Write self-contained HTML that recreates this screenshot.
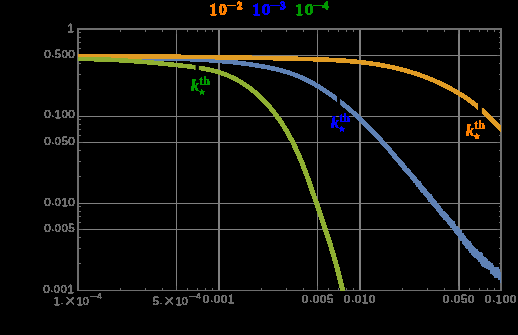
<!DOCTYPE html><html><head><meta charset="utf-8"><style>
html,body{margin:0;padding:0;background:#000;}
body{width:518px;height:335px;position:relative;overflow:hidden;font-family:"Liberation Sans",sans-serif;}
.t{will-change:transform;filter:url(#thr);-webkit-text-stroke:0.35px #6e6e6e;position:absolute;color:#6e6e6e;font-size:11.6px;line-height:12px;white-space:nowrap;}
.t u{text-decoration:none;-webkit-text-stroke:0.1px #6e6e6e;position:relative;top:-0.6px}
.yl{text-align:right;width:60px;left:14.9px;letter-spacing:0.35px;}
.xl{text-align:center;width:80px;letter-spacing:0.35px;}
.xl sup{font-size:9.3px;line-height:0;vertical-align:baseline;position:relative;top:-5.6px;}
.xl i{display:inline-block;width:6.6px;height:1.1px;background:#6e6e6e;position:relative;top:-7.9px;margin:0 0.2px 0 1.6px}
.xl b{font-weight:normal;font-size:19px;line-height:0;position:relative;top:2.0px;margin:0 0.4px 0 0.6px;-webkit-text-stroke:0}
.lg{position:absolute;font-family:"Liberation Serif",serif;font-weight:bold;font-size:16.8px;line-height:17px;white-space:nowrap;}
.lg sup{font-size:11px;line-height:0;vertical-align:baseline;position:relative;top:-7px;}
.k{position:absolute;font-family:"Liberation Serif",serif;font-weight:bold;font-style:italic;font-size:12px;line-height:12px;white-space:nowrap;}
</style></head><body>
<svg width="518" height="335" viewBox="0 0 518 335" style="position:absolute;left:0;top:0">
<defs><filter id="thr" x="-5%" y="-20%" width="110%" height="140%" color-interpolation-filters="sRGB"><feComponentTransfer><feFuncA type="discrete" tableValues="0 0 1 1 1 1 1 1"/></feComponentTransfer></filter><clipPath id="cg"><rect x="78.0" y="29.0" width="117.60" height="262.0"/><rect x="198.90" y="29.0" width="302.10" height="262.0"/></clipPath><clipPath id="cb"><rect x="78.0" y="29.0" width="259.00" height="262.0"/><rect x="340.10" y="29.0" width="160.90" height="262.0"/></clipPath><clipPath id="co"><rect x="78.0" y="29.0" width="400.00" height="262.0"/><rect x="481.90" y="29.0" width="19.10" height="262.0"/></clipPath></defs>
<g shape-rendering="crispEdges" fill="#808080">
<rect x="176" y="29" width="1" height="262"/>
<rect x="218" y="29" width="2" height="262"/>
<rect x="317" y="29" width="1" height="262"/>
<rect x="359" y="29" width="2" height="262"/>
<rect x="458" y="29" width="2" height="262"/>
<rect x="78" y="55" width="423" height="1"/>
<rect x="78" y="116" width="423" height="1"/>
<rect x="78" y="142" width="423" height="1"/>
<rect x="78" y="203" width="423" height="1"/>
<rect x="78" y="229" width="423" height="1"/>
</g>
<g shape-rendering="crispEdges" fill="#6e6e6e">
<rect x="77" y="28" width="2" height="263"/>
<rect x="500" y="28" width="2" height="263"/>
<rect x="77" y="28" width="425" height="2"/>
<rect x="77" y="290" width="425" height="1"/>
<rect x="120" y="288" width="1" height="2"/>
<rect x="120" y="30" width="1" height="2"/>
<rect x="145" y="288" width="1" height="2"/>
<rect x="145" y="30" width="1" height="2"/>
<rect x="162" y="288" width="1" height="2"/>
<rect x="162" y="30" width="1" height="2"/>
<rect x="176" y="286" width="1" height="4"/>
<rect x="176" y="30" width="1" height="4"/>
<rect x="187" y="288" width="1" height="2"/>
<rect x="187" y="30" width="1" height="2"/>
<rect x="197" y="288" width="1" height="2"/>
<rect x="197" y="30" width="1" height="2"/>
<rect x="205" y="288" width="1" height="2"/>
<rect x="205" y="30" width="1" height="2"/>
<rect x="212" y="288" width="1" height="2"/>
<rect x="212" y="30" width="1" height="2"/>
<rect x="261" y="288" width="1" height="2"/>
<rect x="261" y="30" width="1" height="2"/>
<rect x="286" y="288" width="1" height="2"/>
<rect x="286" y="30" width="1" height="2"/>
<rect x="303" y="288" width="1" height="2"/>
<rect x="303" y="30" width="1" height="2"/>
<rect x="317" y="286" width="1" height="4"/>
<rect x="317" y="30" width="1" height="4"/>
<rect x="328" y="288" width="1" height="2"/>
<rect x="328" y="30" width="1" height="2"/>
<rect x="338" y="288" width="1" height="2"/>
<rect x="338" y="30" width="1" height="2"/>
<rect x="346" y="288" width="1" height="2"/>
<rect x="346" y="30" width="1" height="2"/>
<rect x="353" y="288" width="1" height="2"/>
<rect x="353" y="30" width="1" height="2"/>
<rect x="402" y="288" width="1" height="2"/>
<rect x="402" y="30" width="1" height="2"/>
<rect x="427" y="288" width="1" height="2"/>
<rect x="427" y="30" width="1" height="2"/>
<rect x="444" y="288" width="1" height="2"/>
<rect x="444" y="30" width="1" height="2"/>
<rect x="458" y="286" width="1" height="4"/>
<rect x="458" y="30" width="1" height="4"/>
<rect x="469" y="288" width="1" height="2"/>
<rect x="469" y="30" width="1" height="2"/>
<rect x="479" y="288" width="1" height="2"/>
<rect x="479" y="30" width="1" height="2"/>
<rect x="487" y="288" width="1" height="2"/>
<rect x="487" y="30" width="1" height="2"/>
<rect x="494" y="288" width="1" height="2"/>
<rect x="494" y="30" width="1" height="2"/>
<rect x="79" y="263" width="2" height="1"/>
<rect x="499" y="263" width="1" height="1"/>
<rect x="79" y="248" width="2" height="1"/>
<rect x="499" y="248" width="1" height="1"/>
<rect x="79" y="237" width="2" height="1"/>
<rect x="499" y="237" width="1" height="1"/>
<rect x="79" y="229" width="4" height="1"/>
<rect x="497" y="229" width="3" height="1"/>
<rect x="79" y="222" width="2" height="1"/>
<rect x="499" y="222" width="1" height="1"/>
<rect x="79" y="216" width="2" height="1"/>
<rect x="499" y="216" width="1" height="1"/>
<rect x="79" y="211" width="2" height="1"/>
<rect x="499" y="211" width="1" height="1"/>
<rect x="79" y="206" width="2" height="1"/>
<rect x="499" y="206" width="1" height="1"/>
<rect x="79" y="176" width="2" height="1"/>
<rect x="499" y="176" width="1" height="1"/>
<rect x="79" y="161" width="2" height="1"/>
<rect x="499" y="161" width="1" height="1"/>
<rect x="79" y="150" width="2" height="1"/>
<rect x="499" y="150" width="1" height="1"/>
<rect x="79" y="142" width="4" height="1"/>
<rect x="497" y="142" width="3" height="1"/>
<rect x="79" y="135" width="2" height="1"/>
<rect x="499" y="135" width="1" height="1"/>
<rect x="79" y="129" width="2" height="1"/>
<rect x="499" y="129" width="1" height="1"/>
<rect x="79" y="124" width="2" height="1"/>
<rect x="499" y="124" width="1" height="1"/>
<rect x="79" y="119" width="2" height="1"/>
<rect x="499" y="119" width="1" height="1"/>
<rect x="79" y="89" width="2" height="1"/>
<rect x="499" y="89" width="1" height="1"/>
<rect x="79" y="74" width="2" height="1"/>
<rect x="499" y="74" width="1" height="1"/>
<rect x="79" y="63" width="2" height="1"/>
<rect x="499" y="63" width="1" height="1"/>
<rect x="79" y="55" width="4" height="1"/>
<rect x="497" y="55" width="3" height="1"/>
<rect x="79" y="48" width="2" height="1"/>
<rect x="499" y="48" width="1" height="1"/>
<rect x="79" y="42" width="2" height="1"/>
<rect x="499" y="42" width="1" height="1"/>
<rect x="79" y="37" width="2" height="1"/>
<rect x="499" y="37" width="1" height="1"/>
<rect x="79" y="32" width="2" height="1"/>
<rect x="499" y="32" width="1" height="1"/>
</g>
<g fill="none" stroke-width="4.6" stroke-linejoin="round" shape-rendering="crispEdges">
<g clip-path="url(#cb)"><path transform="scale(1.100,1)" d="M71.04,57.44 L71.48,57.45 L71.92,57.47 L72.36,57.48 L72.81,57.50 L73.25,57.51 L73.69,57.53 L74.13,57.54 L74.58,57.55 L75.02,57.57 L75.46,57.58 L75.91,57.60 L76.35,57.61 L76.80,57.62 L77.24,57.63 L77.68,57.65 L78.13,57.66 L78.57,57.67 L79.02,57.68 L79.46,57.69 L79.91,57.71 L80.35,57.72 L80.80,57.73 L81.24,57.74 L81.69,57.75 L82.14,57.76 L82.58,57.77 L83.03,57.78 L83.48,57.79 L83.92,57.80 L84.37,57.81 L84.82,57.82 L85.26,57.83 L85.71,57.84 L86.16,57.85 L86.60,57.86 L87.05,57.86 L87.50,57.87 L87.95,57.88 L88.40,57.89 L88.84,57.90 L89.29,57.90 L89.74,57.91 L90.19,57.92 L90.64,57.93 L91.09,57.93 L91.54,57.94 L91.99,57.95 L92.44,57.95 L92.89,57.96 L93.34,57.97 L93.79,57.97 L94.24,57.98 L94.69,57.99 L95.14,57.99 L95.59,58.00 L96.04,58.00 L96.49,58.01 L96.94,58.01 L97.39,58.02 L97.84,58.02 L98.29,58.03 L98.74,58.04 L99.19,58.04 L99.65,58.04 L100.10,58.05 L100.55,58.05 L101.00,58.06 L101.45,58.06 L101.91,58.07 L102.36,58.07 L102.81,58.08 L103.26,58.08 L103.72,58.08 L104.17,58.09 L104.62,58.09 L105.07,58.10 L105.53,58.10 L105.98,58.10 L106.43,58.11 L106.89,58.11 L107.34,58.11 L107.80,58.12 L108.25,58.12 L108.70,58.12 L109.16,58.13 L109.61,58.13 L110.07,58.13 L110.52,58.14 L110.97,58.14 L111.43,58.14 L111.88,58.15 L112.34,58.15 L112.79,58.15 L113.25,58.16 L113.70,58.16 L114.16,58.16 L114.61,58.16 L115.07,58.17 L115.52,58.17 L115.98,58.17 L116.43,58.18 L116.89,58.18 L117.34,58.18 L117.80,58.19 L118.26,58.19 L118.71,58.19 L119.17,58.19 L119.62,58.20 L120.08,58.20 L120.54,58.20 L120.99,58.21 L121.45,58.21 L121.91,58.21 L122.36,58.21 L122.82,58.22 L123.28,58.22 L123.73,58.22 L124.19,58.23 L124.65,58.23 L125.10,58.23 L125.56,58.24 L126.02,58.24 L126.47,58.24 L126.93,58.25 L127.39,58.25 L127.85,58.25 L128.30,58.26 L128.76,58.26 L129.22,58.26 L129.68,58.27 L130.13,58.27 L130.59,58.27 L131.05,58.28 L131.51,58.28 L131.97,58.28 L132.42,58.29 L132.88,58.29 L133.34,58.30 L133.80,58.30 L134.26,58.31 L134.71,58.31 L135.17,58.31 L135.63,58.32 L136.09,58.32 L136.55,58.33 L137.01,58.33 L137.46,58.34 L137.92,58.34 L138.38,58.35 L138.84,58.35 L139.30,58.36 L139.76,58.37 L140.22,58.37 L140.67,58.38 L141.13,58.38 L141.59,58.39 L142.05,58.39 L142.51,58.40 L142.97,58.41 L143.43,58.41 L143.89,58.42 L144.34,58.43 L144.80,58.43 L145.26,58.44 L145.72,58.45 L146.18,58.46 L146.64,58.46 L147.10,58.47 L147.56,58.48 L148.02,58.49 L148.48,58.49 L148.93,58.50 L149.39,58.51 L149.85,58.52 L150.31,58.53 L150.77,58.54 L151.23,58.55 L151.69,58.56 L152.15,58.57 L152.61,58.57 L153.07,58.58 L153.53,58.59 L153.99,58.60 L154.44,58.61 L154.90,58.63 L155.36,58.64 L155.82,58.65 L156.28,58.66 L156.74,58.67 L157.20,58.68 L157.66,58.69 L158.12,58.70 L158.58,58.72 L159.04,58.73 L159.50,58.74 L159.96,58.75 L160.41,58.77 L160.87,58.78 L161.33,58.79 L161.79,58.81 L162.25,58.82 L162.71,58.84 L163.17,58.85 L163.63,58.87 L164.09,58.88 L164.55,58.90 L165.01,58.91 L165.46,58.93 L165.92,58.94 L166.38,58.96 L166.84,58.97 L167.30,58.99 L167.76,59.01 L168.22,59.03 L168.68,59.04 L169.14,59.06 L169.59,59.08 L170.05,59.10 L170.51,59.12 L170.97,59.13 L171.43,59.15 L171.89,59.17 L172.35,59.19 L172.81,59.21 L173.26,59.23 L173.72,59.25 L174.18,59.27 L174.64,59.29 L175.10,59.32 L175.56,59.34 L176.01,59.36 L176.47,59.38 L176.93,59.40 L177.39,59.43 L177.85,59.45 L178.30,59.47 L178.76,59.50 L179.22,59.52 L179.68,59.55 L180.14,59.57 L180.59,59.60 L181.05,59.62 L181.51,59.65 L181.97,59.67 L182.42,59.70 L182.88,59.73 L183.34,59.75 L183.80,59.78 L184.25,59.81 L184.71,59.84 L185.17,59.86 L185.62,59.89 L186.08,59.92 L186.54,59.95 L187.00,59.98 L187.45,60.01 L187.91,60.04 L188.37,60.07 L188.82,60.10 L189.28,60.14 L189.74,60.17 L190.19,60.20 L190.65,60.23 L191.10,60.27 L191.56,60.30 L192.02,60.33 L192.47,60.37 L192.93,60.40 L193.38,60.44 L193.84,60.47 L194.30,60.51 L194.75,60.55 L195.21,60.58 L195.66,60.62 L196.12,60.66 L196.57,60.70 L197.03,60.73 L197.48,60.77 L197.94,60.81 L198.39,60.85 L198.85,60.89 L199.30,60.93 L199.76,60.97 L200.21,61.01 L200.66,61.06 L201.12,61.10 L201.57,61.14 L202.03,61.18 L202.48,61.23 L202.93,61.27 L203.39,61.32 L203.84,61.36 L204.30,61.41 L204.75,61.45 L205.20,61.50 L205.66,61.55 L206.11,61.59 L206.56,61.64 L207.01,61.69 L207.47,61.74 L207.92,61.79 L208.37,61.83 L208.82,61.88 L209.28,61.94 L209.73,61.99 L210.18,62.04 L210.63,62.09 L211.08,62.14 L211.54,62.19 L211.99,62.25 L212.44,62.30 L212.89,62.36 L213.34,62.41 L213.79,62.47 L214.24,62.52 L214.69,62.58 L215.15,62.63 L215.60,62.69 L216.05,62.75 L216.50,62.81 L216.95,62.87 L217.40,62.93 L217.85,62.99 L218.30,63.05 L218.75,63.11 L219.20,63.17 L219.64,63.23 L220.09,63.29 L220.54,63.36 L220.99,63.42 L221.44,63.48 L221.89,63.55 L222.34,63.61 L222.79,63.68 L223.23,63.75 L223.68,63.81 L224.13,63.88 L224.58,63.95 L225.02,64.02 L225.47,64.09 L225.92,64.16 L226.37,64.23 L226.81,64.30 L227.26,64.37 L227.71,64.44 L228.15,64.51 L228.60,64.59 L229.04,64.66 L229.49,64.73 L229.94,64.81 L230.38,64.88 L230.83,64.96 L231.27,65.04 L231.72,65.11 L232.16,65.19 L232.61,65.27 L233.05,65.35 L233.50,65.43 L233.94,65.51 L234.38,65.59 L234.83,65.67 L235.27,65.75 L235.72,65.84 L236.16,65.92 L236.60,66.00 L237.04,66.09 L237.49,66.17 L237.93,66.26 L238.37,66.35 L238.81,66.43 L239.26,66.52 L239.70,66.61 L240.14,66.70 L240.58,66.79 L241.02,66.88 L241.46,66.97 L241.90,67.07 L242.34,67.16 L242.79,67.25 L243.23,67.35 L243.66,67.45 L244.10,67.54 L244.54,67.64 L244.98,67.74 L245.42,67.84 L245.86,67.94 L246.30,68.04 L246.74,68.14 L247.18,68.25 L247.61,68.35 L248.05,68.46 L248.49,68.56 L248.92,68.67 L249.36,68.78 L249.80,68.89 L250.23,69.00 L250.67,69.12 L251.10,69.23 L251.54,69.34 L251.97,69.46 L252.41,69.58 L252.84,69.69 L253.28,69.81 L253.71,69.94 L254.14,70.06 L254.58,70.18 L255.01,70.31 L255.44,70.43 L255.87,70.56 L256.31,70.69 L256.74,70.82 L257.17,70.95 L257.60,71.08 L258.03,71.22 L258.46,71.35 L258.89,71.49 L259.32,71.63 L259.75,71.77 L260.18,71.91 L260.61,72.05 L261.03,72.20 L261.46,72.34 L261.89,72.49 L262.32,72.64 L262.74,72.79 L263.17,72.95 L263.59,73.10 L264.02,73.26 L264.44,73.41 L264.87,73.57 L265.29,73.74 L265.72,73.90 L266.14,74.06 L266.56,74.23 L266.99,74.40 L267.41,74.57 L267.83,74.74 L268.25,74.91 L268.67,75.09 L269.09,75.27 L269.51,75.44 L269.93,75.63 L270.35,75.81 L270.77,75.99 L271.19,76.18 L271.61,76.37 L272.03,76.56 L272.44,76.75 L272.86,76.95 L273.28,77.14 L273.69,77.34 L274.11,77.54 L274.52,77.75 L274.94,77.95 L275.35,78.16 L275.76,78.37 L276.18,78.58 L276.59,78.79 L277.00,79.01 L277.41,79.23 L277.82,79.45 L278.24,79.67 L278.65,79.89 L279.06,80.12 L279.46,80.35 L279.87,80.58 L280.28,80.81 L280.69,81.04 L281.10,81.28 L281.50,81.51 L281.91,81.75 L282.31,81.99 L282.72,82.23 L283.12,82.48 L283.53,82.72 L283.93,82.97 L284.33,83.22 L284.74,83.47 L285.14,83.72 L285.54,83.97 L285.94,84.23 L286.34,84.48 L286.74,84.74 L287.14,85.00 L287.54,85.26 L287.93,85.52 L288.33,85.78 L288.73,86.04 L289.13,86.31 L289.52,86.57 L289.92,86.84 L290.31,87.11 L290.70,87.38 L291.10,87.65 L291.49,87.92 L291.88,88.19 L292.27,88.46 L292.66,88.74 L293.05,89.01 L293.44,89.29 L293.83,89.57 L294.22,89.85 L294.61,90.13 L295.00,90.41 L295.38,90.69 L295.77,90.97 L296.15,91.25 L296.54,91.54 L296.92,91.82 L297.31,92.11 L297.69,92.40 L298.07,92.69 L298.45,92.98 L298.83,93.27 L299.21,93.56 L299.59,93.85 L299.97,94.14 L300.35,94.44 L300.73,94.73 L301.10,95.03 L301.48,95.32 L301.86,95.62 L302.23,95.92 L302.60,96.22 L302.98,96.51 L303.35,96.81 L303.72,97.12 L304.09,97.42 L304.46,97.72 L304.83,98.02 L305.20,98.33 L305.57,98.63 L305.94,98.94 L306.31,99.24 L306.67,99.55 L307.04,99.86 L307.40,100.17 L307.77,100.47 L308.13,100.78 L308.49,101.09 L308.86,101.40 L309.22,101.72 L309.58,102.03 L309.94,102.34 L310.30,102.65 L310.65,102.97 L311.01,103.28 L311.37,103.60 L311.72,103.91 L312.08,104.23 L312.43,104.55 L312.79,104.86 L313.14,105.18 L313.50,105.50 L313.85,105.82 L314.20,106.14 L314.55,106.46 L314.90,106.78 L315.25,107.10 L315.60,107.43 L315.95,107.75 L316.29,108.07 L316.64,108.40 L316.99,108.72 L317.33,109.05 L317.68,109.37 L318.02,109.70 L318.36,110.03 L318.71,110.35 L319.05,110.68 L319.39,111.01 L319.73,111.34 L320.07,111.67 L320.41,112.00 L320.75,112.33 L321.09,112.66 L321.43,113.00 L321.76,113.33 L322.10,113.66 L322.44,113.99 L322.77,114.33 L323.11,114.66 L323.44,115.00 L323.78,115.33 L324.11,115.67 L324.44,116.01 L324.78,116.35 L325.11,116.68 L325.44,117.02 L325.77,117.36 L326.10,117.70 L326.43,118.04 L326.76,118.38 L327.09,118.72 L327.42,119.06 L327.74,119.41 L328.07,119.75 L328.40,120.09 L328.72,120.43 L329.05,120.78 L329.37,121.12 L329.70,121.47 L330.02,121.81 L330.34,122.16 L330.67,122.51 L330.99,122.85 L331.31,123.20 L331.63,123.55 L331.96,123.90 L332.28,124.25 L332.60,124.60 L332.92,124.95 L333.23,125.30 L333.55,125.65 L333.87,126.00 L334.19,126.35 L334.51,126.70 L334.82,127.05 L335.14,127.41 L335.46,127.76 L335.77,128.11 L336.09,128.47 L336.40,128.82 L336.72,129.18 L337.03,129.53 L337.35,129.89 L337.66,130.23 L337.97,130.62 L338.29,130.95 L338.60,131.32 L338.91,131.71 L339.22,132.06 L339.53,132.33 L339.84,132.74 L340.15,133.13 L340.46,133.41 L340.77,133.68 L341.08,134.19 L341.39,134.55 L341.70,134.95 L342.01,135.29 L342.32,135.66 L342.62,136.03 L342.93,136.50 L343.24,136.78 L343.54,137.16 L343.85,137.42 L344.16,137.96 L344.46,138.17 L344.77,138.65 L345.07,138.66 L345.38,139.32 L345.68,139.65 L345.99,139.96 L346.29,140.58 L346.59,140.82 L346.90,141.11 L347.20,141.42 L347.50,142.17 L347.80,142.36 L348.11,142.72 L348.41,142.84 L348.71,143.58 L349.01,143.82 L349.31,144.04 L349.61,144.44 L349.91,144.51 L350.21,145.34 L350.51,145.35 L350.81,146.13 L351.11,146.23 L351.41,146.56 L351.71,147.15 L352.01,147.49 L352.31,147.55 L352.61,148.17 L352.91,148.71 L353.21,148.88 L353.51,148.98 L353.80,149.63 L354.10,149.82 L354.40,150.29 L354.70,150.83 L354.99,151.18 L355.29,151.51 L355.59,151.48 L355.88,152.42 L356.18,152.64 L356.48,152.96 L356.77,153.50 L357.07,154.42 L357.37,153.81 L357.66,154.09 L357.96,155.21 L358.25,155.09 L358.55,156.14 L358.84,155.78 L359.14,156.32 L359.43,157.14 L359.73,157.55 L360.02,157.77 L360.32,158.15 L360.61,158.33 L360.91,158.60 L361.20,159.06 L361.50,159.98 L361.79,160.16 L362.08,160.28 L362.38,160.77 L362.67,161.35 L362.97,161.87 L363.26,161.74 L363.55,162.14 L363.85,162.68 L364.14,163.99 L364.44,163.41 L364.73,164.22 L365.02,163.43 L365.32,164.81 L365.61,164.23 L365.90,164.75 L366.20,165.32 L366.49,165.91 L366.78,166.43 L367.08,166.90 L367.37,167.21 L367.67,167.29 L367.96,169.07 L368.25,168.44 L368.55,168.95 L368.84,169.97 L369.13,169.85 L369.42,170.05 L369.72,170.31 L370.01,171.45 L370.30,170.38 L370.60,170.82 L370.89,171.75 L371.18,171.02 L371.48,172.04 L371.77,173.40 L372.06,172.96 L372.36,173.66 L372.65,174.32 L372.94,173.72 L373.23,174.86 L373.53,174.76 L373.82,174.88 L374.11,175.71 L374.40,176.21 L374.70,176.40 L374.99,176.63 L375.28,177.92 L375.57,178.42 L375.87,178.46 L376.16,178.47 L376.45,178.29 L376.74,178.80 L377.04,179.01 L377.33,180.17 L377.62,180.98 L377.91,181.36 L378.20,181.17 L378.50,181.34 L378.79,182.06 L379.08,182.41 L379.37,183.09 L379.66,184.02 L379.96,183.05 L380.25,185.19 L380.54,182.89 L380.83,183.47 L381.12,184.02 L381.41,184.72 L381.70,185.62 L382.00,187.52 L382.29,186.07 L382.58,187.66 L382.87,187.05 L383.16,187.78 L383.45,187.37 L383.74,190.01 L384.03,188.80 L384.32,188.78 L384.61,191.19 L384.90,190.11 L385.20,190.66 L385.49,190.64 L385.78,190.53 L386.07,190.48 L386.36,191.77 L386.65,193.46 L386.94,192.97 L387.23,192.92 L387.52,194.22 L387.81,193.12 L388.10,195.23 L388.39,194.57 L388.68,194.34 L388.97,195.87 L389.26,196.13 L389.55,195.86 L389.84,196.67 L390.12,197.66 L390.41,198.38 L390.70,197.00 L390.99,195.96 L391.28,200.07 L391.57,198.61 L391.86,198.87 L392.15,199.94 L392.44,199.63 L392.72,201.22 L393.01,199.73 L393.30,200.97 L393.59,200.48 L393.88,203.19 L394.17,202.09 L394.45,203.61 L394.74,204.25 L395.03,202.44 L395.32,203.66 L395.61,204.86 L395.89,204.67 L396.18,204.90 L396.47,206.14 L396.76,206.59 L397.04,205.66 L397.33,206.45 L397.62,207.53 L397.91,207.54 L398.19,207.86 L398.48,207.11 L398.77,210.11 L399.05,208.69 L399.34,209.54 L399.63,209.65 L399.91,210.13 L400.20,210.60 L400.49,210.07 L400.78,211.60 L401.06,212.76 L401.35,212.40 L401.64,213.10 L401.92,213.26 L402.21,213.22 L402.50,215.33 L402.78,213.31 L403.07,214.74 L403.36,215.75 L403.64,215.43 L403.93,214.50 L404.22,214.85 L404.51,217.86 L404.79,215.75 L405.08,217.10 L405.37,218.03 L405.65,217.97 L405.94,216.47 L406.23,216.73 L406.52,218.94 L406.80,218.64 L407.09,219.56 L407.38,220.31 L407.67,220.77 L407.95,219.60 L408.24,219.62 L408.53,222.76 L408.82,221.50 L409.11,221.31 L409.40,220.82 L409.68,223.90 L409.97,222.37 L410.26,222.98 L410.55,225.17 L410.84,225.22 L411.13,225.89 L411.42,224.28 L411.71,223.11 L412.00,225.35 L412.29,226.50 L412.57,226.48 L412.86,228.60 L413.15,228.40 L413.44,227.21 L413.74,229.41 L414.03,228.99 L414.32,228.99 L414.61,231.21 L414.90,228.40 L415.19,231.89 L415.48,232.35 L415.77,229.09 L416.06,231.64 L416.36,232.06 L416.65,231.30 L416.94,232.34 L417.23,232.44 L417.53,233.86 L417.82,233.51 L418.11,232.00 L418.41,236.37 L418.70,236.40 L418.99,234.70 L419.29,237.15 L419.58,238.93 L419.88,234.96 L420.17,236.74 L420.47,236.98 L420.76,238.69 L421.06,238.01 L421.35,237.03 L421.65,240.72 L421.95,239.13 L422.24,240.83 L422.54,243.17 L422.84,239.73 L423.13,240.53 L423.43,242.59 L423.73,241.67 L424.03,242.85 L424.33,242.56 L424.63,246.39 L424.93,244.14 L425.23,244.15 L425.53,244.24 L425.83,244.96 L426.13,242.68 L426.43,244.84 L426.73,246.56 L427.03,244.35 L427.33,246.38 L427.64,246.57 L427.94,246.39 L428.24,250.81 L428.54,248.79 L428.85,248.64 L429.15,247.50 L429.46,249.05 L429.76,248.90 L430.07,249.56 L430.37,250.35 L430.68,253.88 L430.99,252.65 L431.29,253.54 L431.60,253.44 L431.91,255.63 L432.21,251.33 L432.52,250.82 L432.83,253.29 L433.14,253.73 L433.45,253.78 L433.76,253.20 L434.07,255.44 L434.38,257.30 L434.69,255.50 L435.01,255.22 L435.32,257.65 L435.63,255.83 L435.94,256.12 L436.26,257.46 L436.57,254.00 L436.89,260.50 L437.20,257.92 L437.52,259.20 L437.83,259.26 L438.15,259.76 L438.47,257.51 L438.78,262.52 L439.10,261.08 L439.42,261.03 L439.74,264.97 L440.06,259.35 L440.38,262.77 L440.70,261.84 L441.02,260.04 L441.34,265.68 L441.66,260.64 L441.98,263.61 L442.31,263.61 L442.63,264.38 L442.95,262.97 L443.28,266.93 L443.60,265.53 L443.93,263.47 L444.26,263.90 L444.58,266.61 L444.91,264.67 L445.24,267.55 L445.57,267.73 L445.90,266.61 L446.23,264.77 L446.56,266.12 L446.89,269.15 L447.22,268.07 L447.55,272.26 L447.88,268.87 L448.22,270.54 L448.55,271.36 L448.88,270.74 L449.22,271.43 L449.55,272.90 L449.89,271.36 L450.23,272.48 L450.56,271.68 L450.90,275.84 L451.24,273.20 L451.58,274.61 L451.92,269.25 L452.26,273.12 L452.60,272.41 L452.94,274.63 L453.29,274.17 L453.63,273.52 L453.97,275.09 L454.32,277.19 L454.66,277.92 L455.01,275.65 L455.36,278.55 L455.70,276.15 L456.05,278.47 L456.40,276.39 L456.75,279.80 L457.10,282.18 L457.45,278.26 L457.80,281.04 L458.15,277.01 L458.51,278.65 L458.86,284.30" stroke="#5E81B5"/></g>
<g clip-path="url(#co)"><path transform="scale(1.100,1)" d="M71.11,56.08 L72.01,56.09 L72.90,56.09 L73.79,56.10 L74.68,56.10 L75.58,56.11 L76.47,56.11 L77.36,56.12 L78.26,56.12 L79.15,56.13 L80.05,56.13 L80.94,56.14 L81.84,56.14 L82.73,56.15 L83.63,56.15 L84.52,56.16 L85.42,56.16 L86.32,56.17 L87.21,56.17 L88.11,56.18 L89.01,56.18 L89.91,56.19 L90.80,56.19 L91.70,56.20 L92.60,56.20 L93.50,56.21 L94.40,56.21 L95.30,56.22 L96.20,56.22 L97.10,56.23 L98.00,56.24 L98.90,56.24 L99.80,56.25 L100.70,56.25 L101.60,56.26 L102.50,56.26 L103.40,56.27 L104.31,56.28 L105.21,56.28 L106.11,56.29 L107.01,56.29 L107.92,56.30 L108.82,56.31 L109.72,56.31 L110.63,56.32 L111.53,56.32 L112.43,56.33 L113.34,56.34 L114.24,56.34 L115.15,56.35 L116.05,56.36 L116.96,56.36 L117.86,56.37 L118.77,56.38 L119.67,56.38 L120.58,56.39 L121.49,56.40 L122.39,56.40 L123.30,56.41 L124.21,56.42 L125.11,56.43 L126.02,56.43 L126.93,56.44 L127.83,56.45 L128.74,56.45 L129.65,56.46 L130.56,56.47 L131.47,56.48 L132.37,56.48 L133.28,56.49 L134.19,56.50 L135.10,56.51 L136.01,56.52 L136.92,56.52 L137.83,56.53 L138.74,56.54 L139.65,56.55 L140.56,56.56 L141.47,56.56 L142.38,56.57 L143.29,56.58 L144.20,56.59 L145.11,56.60 L146.02,56.61 L146.93,56.62 L147.84,56.63 L148.75,56.63 L149.67,56.64 L150.58,56.65 L151.49,56.66 L152.40,56.67 L153.31,56.68 L154.22,56.69 L155.14,56.70 L156.05,56.71 L156.96,56.72 L157.87,56.73 L158.79,56.74 L159.70,56.75 L160.61,56.76 L161.52,56.77 L162.44,56.78 L163.35,56.79 L164.26,56.80 L165.18,56.81 L166.09,56.82 L167.00,56.83 L167.92,56.84 L168.83,56.85 L169.74,56.86 L170.66,56.87 L171.57,56.89 L172.49,56.90 L173.40,56.91 L174.31,56.92 L175.23,56.93 L176.14,56.94 L177.06,56.95 L177.97,56.97 L178.89,56.98 L179.80,56.99 L180.71,57.00 L181.63,57.01 L182.54,57.03 L183.46,57.04 L184.37,57.05 L185.29,57.06 L186.20,57.08 L187.12,57.09 L188.03,57.10 L188.95,57.12 L189.86,57.13 L190.78,57.14 L191.69,57.15 L192.61,57.17 L193.52,57.18 L194.44,57.20 L195.35,57.21 L196.27,57.22 L197.18,57.24 L198.10,57.25 L199.01,57.27 L199.93,57.28 L200.85,57.29 L201.76,57.31 L202.68,57.32 L203.59,57.34 L204.51,57.35 L205.42,57.37 L206.34,57.38 L207.25,57.40 L208.17,57.41 L209.08,57.43 L210.00,57.45 L210.91,57.46 L211.83,57.48 L212.74,57.49 L213.66,57.51 L214.57,57.53 L215.49,57.54 L216.40,57.56 L217.32,57.57 L218.23,57.59 L219.15,57.61 L220.06,57.63 L220.98,57.64 L221.89,57.66 L222.81,57.68 L223.72,57.69 L224.64,57.71 L225.55,57.73 L226.47,57.75 L227.38,57.77 L228.30,57.78 L229.21,57.80 L230.13,57.82 L231.04,57.84 L231.95,57.86 L232.87,57.88 L233.78,57.90 L234.70,57.92 L235.61,57.93 L236.52,57.95 L237.44,57.97 L238.35,57.99 L239.27,58.01 L240.18,58.03 L241.09,58.05 L242.01,58.07 L242.92,58.09 L243.83,58.11 L244.75,58.13 L245.66,58.16 L246.57,58.18 L247.48,58.20 L248.40,58.22 L249.31,58.24 L250.22,58.26 L251.13,58.28 L252.05,58.31 L252.96,58.33 L253.87,58.35 L254.78,58.37 L255.69,58.39 L256.61,58.42 L257.52,58.44 L258.43,58.46 L259.34,58.49 L260.25,58.51 L261.16,58.53 L262.07,58.56 L262.98,58.58 L263.89,58.60 L264.80,58.63 L265.71,58.65 L266.62,58.68 L267.53,58.70 L268.44,58.73 L269.35,58.75 L270.26,58.78 L271.17,58.80 L272.08,58.83 L272.99,58.85 L273.90,58.88 L274.81,58.90 L275.72,58.93 L276.62,58.96 L277.53,58.98 L278.44,59.01 L279.35,59.04 L280.26,59.06 L281.16,59.09 L282.07,59.12 L282.98,59.15 L283.88,59.18 L284.79,59.21 L285.70,59.24 L286.60,59.28 L287.51,59.31 L288.41,59.34 L289.32,59.38 L290.23,59.41 L291.13,59.45 L292.04,59.49 L292.94,59.52 L293.85,59.56 L294.75,59.60 L295.65,59.65 L296.56,59.69 L297.46,59.73 L298.36,59.78 L299.27,59.82 L300.17,59.87 L301.07,59.92 L301.98,59.97 L302.88,60.02 L303.78,60.08 L304.68,60.13 L305.58,60.19 L306.48,60.25 L307.38,60.31 L308.29,60.37 L309.19,60.43 L310.09,60.49 L310.99,60.56 L311.89,60.63 L312.79,60.70 L313.68,60.77 L314.58,60.85 L315.48,60.92 L316.38,61.00 L317.28,61.08 L318.18,61.16 L319.07,61.25 L319.97,61.33 L320.87,61.42 L321.76,61.51 L322.66,61.61 L323.56,61.70 L324.45,61.80 L325.35,61.90 L326.24,62.00 L327.14,62.11 L328.03,62.22 L328.93,62.33 L329.82,62.44 L330.71,62.56 L331.61,62.68 L332.50,62.80 L333.39,62.92 L334.29,63.05 L335.18,63.18 L336.07,63.31 L336.96,63.45 L337.85,63.59 L338.74,63.73 L339.63,63.87 L340.52,64.02 L341.41,64.17 L342.30,64.33 L343.19,64.48 L344.08,64.65 L344.97,64.81 L345.86,64.98 L346.74,65.15 L347.63,65.32 L348.52,65.50 L349.40,65.68 L350.29,65.86 L351.18,66.05 L352.06,66.24 L352.95,66.44 L353.83,66.64 L354.72,66.84 L355.60,67.05 L356.48,67.26 L357.37,67.47 L358.25,67.69 L359.13,67.91 L360.02,68.14 L360.90,68.37 L361.78,68.60 L362.66,68.84 L363.54,69.09 L364.42,69.33 L365.30,69.58 L366.18,69.84 L367.06,70.10 L367.94,70.36 L368.81,70.63 L369.69,70.90 L370.57,71.17 L371.44,71.46 L372.32,71.74 L373.19,72.03 L374.06,72.32 L374.94,72.62 L375.81,72.92 L376.68,73.22 L377.55,73.53 L378.42,73.85 L379.29,74.17 L380.15,74.49 L381.02,74.82 L381.88,75.15 L382.75,75.48 L383.61,75.82 L384.47,76.17 L385.33,76.52 L386.19,76.87 L387.04,77.23 L387.90,77.59 L388.75,77.95 L389.60,78.32 L390.45,78.70 L391.30,79.08 L392.15,79.46 L393.00,79.85 L393.84,80.24 L394.68,80.64 L395.53,81.04 L396.36,81.44 L397.20,81.85 L398.04,82.27 L398.87,82.69 L399.70,83.11 L400.53,83.54 L401.36,83.97 L402.19,84.41 L403.01,84.85 L403.83,85.29 L404.65,85.74 L405.47,86.20 L406.28,86.66 L407.10,87.12 L407.91,87.59 L408.72,88.06 L409.52,88.54 L410.32,89.02 L411.13,89.51 L411.92,90.00 L412.72,90.49 L413.51,90.99 L414.30,91.50 L415.09,92.01 L415.88,92.52 L416.66,93.04 L417.44,93.56 L418.22,94.09 L418.99,94.62 L419.77,95.16 L420.53,95.70 L421.30,96.24 L422.06,96.79 L422.82,97.35 L423.58,97.91 L424.33,98.47 L425.08,99.04 L425.83,99.62 L426.58,100.20 L427.32,100.78 L428.06,101.37 L428.79,101.96 L429.52,102.56 L430.25,103.16 L430.97,103.77 L431.70,104.38 L432.41,104.99 L433.13,105.62 L433.84,106.24 L434.54,106.87 L435.25,107.51 L435.95,108.15 L436.64,108.79 L437.34,109.44 L438.03,110.10 L438.71,110.76 L439.39,111.42 L440.07,112.09 L440.74,112.76 L441.41,113.44 L442.08,114.12 L442.74,114.80 L443.40,115.49 L444.06,116.18 L444.72,116.88 L445.37,117.57 L446.02,118.27 L446.67,118.97 L447.31,119.68 L447.96,120.38 L448.60,121.09 L449.24,121.80 L449.87,122.50 L450.51,123.21 L451.14,123.92 L451.77,124.64 L452.41,125.35 L453.04,126.06 L453.67,126.77 L454.29,127.48 L454.92,128.19 L455.55,128.90 L456.17,129.61 L456.80,130.31 L457.42,131.02 L458.05,131.72 L458.67,132.42" stroke="#E19C24"/></g>
<g clip-path="url(#cg)"><path transform="scale(1.100,1)" d="M70.96,58.95 L71.87,58.96 L72.78,58.96 L73.69,58.97 L74.59,58.98 L75.50,58.99 L76.40,59.00 L77.31,59.01 L78.22,59.03 L79.12,59.04 L80.03,59.06 L80.93,59.08 L81.84,59.10 L82.74,59.12 L83.65,59.14 L84.55,59.16 L85.46,59.19 L86.36,59.22 L87.27,59.24 L88.17,59.27 L89.08,59.30 L89.98,59.33 L90.89,59.37 L91.79,59.40 L92.69,59.44 L93.60,59.47 L94.50,59.51 L95.41,59.55 L96.31,59.59 L97.21,59.63 L98.12,59.67 L99.02,59.72 L99.93,59.76 L100.83,59.81 L101.73,59.86 L102.64,59.90 L103.54,59.95 L104.44,60.01 L105.35,60.06 L106.25,60.11 L107.15,60.16 L108.06,60.22 L108.96,60.28 L109.87,60.33 L110.77,60.39 L111.67,60.45 L112.58,60.51 L113.48,60.58 L114.39,60.64 L115.29,60.70 L116.19,60.77 L117.10,60.83 L118.00,60.90 L118.91,60.97 L119.81,61.04 L120.72,61.11 L121.62,61.18 L122.52,61.25 L123.43,61.33 L124.33,61.40 L125.24,61.48 L126.15,61.55 L127.05,61.63 L127.96,61.71 L128.86,61.79 L129.77,61.87 L130.67,61.95 L131.58,62.03 L132.49,62.11 L133.39,62.20 L134.30,62.28 L135.21,62.37 L136.11,62.45 L137.02,62.54 L137.93,62.63 L138.84,62.72 L139.75,62.81 L140.65,62.90 L141.56,62.99 L142.47,63.08 L143.38,63.18 L144.29,63.27 L145.20,63.36 L146.11,63.46 L147.02,63.56 L147.93,63.65 L148.84,63.75 L149.75,63.85 L150.66,63.95 L151.57,64.05 L152.48,64.15 L153.40,64.25 L154.31,64.36 L155.22,64.46 L156.13,64.56 L157.05,64.67 L157.96,64.77 L158.88,64.88 L159.79,64.99 L160.70,65.09 L161.62,65.20 L162.53,65.31 L163.45,65.42 L164.37,65.53 L165.28,65.64 L166.20,65.76 L167.11,65.87 L168.03,65.99 L168.94,66.11 L169.86,66.23 L170.77,66.35 L171.69,66.47 L172.60,66.60 L173.51,66.73 L174.42,66.86 L175.33,67.00 L176.24,67.13 L177.15,67.27 L178.06,67.42 L178.97,67.56 L179.87,67.71 L180.78,67.87 L181.68,68.02 L182.58,68.19 L183.48,68.35 L184.38,68.52 L185.28,68.70 L186.18,68.88 L187.07,69.06 L187.96,69.25 L188.85,69.45 L189.74,69.65 L190.62,69.86 L191.51,70.08 L192.39,70.31 L193.27,70.54 L194.15,70.78 L195.02,71.02 L195.89,71.28 L196.76,71.54 L197.63,71.81 L198.49,72.10 L199.35,72.39 L200.21,72.69 L201.06,73.00 L201.92,73.32 L202.76,73.65 L203.61,73.98 L204.45,74.33 L205.29,74.69 L206.13,75.05 L206.96,75.43 L207.79,75.81 L208.61,76.21 L209.43,76.61 L210.25,77.02 L211.06,77.44 L211.87,77.87 L212.68,78.30 L213.48,78.75 L214.27,79.20 L215.07,79.67 L215.85,80.14 L216.64,80.62 L217.42,81.11 L218.19,81.61 L218.96,82.11 L219.73,82.63 L220.49,83.15 L221.24,83.68 L221.99,84.22 L222.74,84.76 L223.48,85.32 L224.22,85.88 L224.95,86.45 L225.68,87.03 L226.41,87.61 L227.13,88.20 L227.84,88.80 L228.55,89.41 L229.26,90.02 L229.96,90.64 L230.65,91.27 L231.35,91.91 L232.03,92.55 L232.72,93.20 L233.39,93.85 L234.07,94.51 L234.74,95.18 L235.40,95.85 L236.06,96.53 L236.72,97.22 L237.37,97.91 L238.01,98.61 L238.66,99.31 L239.29,100.02 L239.93,100.74 L240.55,101.46 L241.18,102.19 L241.80,102.92 L242.41,103.66 L243.02,104.40 L243.63,105.15 L244.23,105.90 L244.83,106.66 L245.42,107.42 L246.01,108.19 L246.59,108.96 L247.17,109.74 L247.74,110.52 L248.31,111.31 L248.88,112.10 L249.44,112.89 L250.00,113.69 L250.55,114.50 L251.10,115.30 L251.64,116.12 L252.18,116.93 L252.71,117.75 L253.24,118.57 L253.77,119.40 L254.29,120.23 L254.81,121.06 L255.32,121.90 L255.83,122.74 L256.33,123.58 L256.83,124.43 L257.33,125.28 L257.82,126.13 L258.30,126.98 L258.78,127.84 L259.26,128.70 L259.73,129.56 L260.20,130.43 L260.67,131.29 L261.13,132.16 L261.58,133.03 L262.03,133.91 L262.48,134.78 L262.92,135.66 L263.36,136.54 L263.79,137.42 L264.22,138.30 L264.65,139.19 L265.07,140.08 L265.49,140.96 L265.90,141.85 L266.31,142.75 L266.72,143.64 L267.12,144.53 L267.52,145.43 L267.91,146.33 L268.30,147.23 L268.69,148.13 L269.07,149.03 L269.45,149.93 L269.83,150.84 L270.21,151.75 L270.58,152.65 L270.94,153.56 L271.31,154.47 L271.67,155.39 L272.03,156.30 L272.39,157.21 L272.74,158.13 L273.09,159.05 L273.44,159.97 L273.78,160.88 L274.13,161.81 L274.47,162.73 L274.80,163.65 L275.14,164.57 L275.47,165.50 L275.80,166.42 L276.13,167.35 L276.46,168.28 L276.78,169.21 L277.10,170.14 L277.42,171.07 L277.74,172.00 L278.06,172.93 L278.37,173.86 L278.69,174.80 L279.00,175.73 L279.31,176.67 L279.62,177.60 L279.93,178.54 L280.23,179.48 L280.54,180.42 L280.84,181.35 L281.14,182.29 L281.44,183.23 L281.74,184.17 L282.04,185.12 L282.34,186.06 L282.64,187.00 L282.94,187.94 L283.23,188.88 L283.53,189.83 L283.82,190.77 L284.12,191.71 L284.41,192.66 L284.70,193.60 L285.00,194.55 L285.29,195.49 L285.58,196.44 L285.87,197.38 L286.17,198.33 L286.46,199.27 L286.75,200.22 L287.04,201.17 L287.34,202.11 L287.63,203.06 L287.92,204.01 L288.22,204.95 L288.51,205.90 L288.80,206.84 L289.10,207.79 L289.39,208.74 L289.69,209.68 L289.98,210.63 L290.27,211.58 L290.57,212.52 L290.86,213.47 L291.16,214.42 L291.45,215.36 L291.74,216.31 L292.04,217.26 L292.33,218.20 L292.62,219.15 L292.92,220.10 L293.21,221.05 L293.50,222.00 L293.79,222.94 L294.09,223.89 L294.38,224.84 L294.67,225.79 L294.96,226.74 L295.25,227.69 L295.53,228.64 L295.82,229.59 L296.11,230.54 L296.40,231.49 L296.68,232.44 L296.97,233.39 L297.25,234.34 L297.53,235.29 L297.82,236.24 L298.10,237.19 L298.38,238.14 L298.66,239.09 L298.93,240.05 L299.21,241.00 L299.49,241.95 L299.76,242.90 L300.03,243.86 L300.31,244.81 L300.58,245.77 L300.85,246.72 L301.12,247.68 L301.38,248.63 L301.65,249.59 L301.91,250.54 L302.18,251.50 L302.44,252.46 L302.70,253.41 L302.95,254.37 L303.21,255.33 L303.47,256.29 L303.72,257.24 L303.97,258.20 L304.22,259.16 L304.47,260.12 L304.72,261.08 L304.96,262.04 L305.21,263.01 L305.45,263.97 L305.69,264.93 L305.93,265.89 L306.17,266.86 L306.41,267.82 L306.64,268.78 L306.87,269.75 L307.11,270.71 L307.34,271.68 L307.57,272.65 L307.79,273.61 L308.02,274.58 L308.24,275.55 L308.46,276.52 L308.68,277.49 L308.90,278.46 L309.12,279.43 L309.34,280.40 L309.55,281.37 L309.76,282.34 L309.97,283.31 L310.18,284.29 L310.39,285.26 L310.60,286.24 L310.80,287.21 L311.00,288.19 L311.20,289.16 L311.40,290.14 L311.60,291.12 L311.80,292.10 L311.99,293.08 L312.18,294.06 L312.37,295.04 L312.56,296.02 L312.75,297.00 L312.93,297.98 L313.12,298.96 L313.30,299.95 L313.48,300.93 L313.66,301.92 L313.84,302.91 L314.01,303.89 L314.19,304.88 L314.36,305.87" stroke="#8FB032"/></g>
</g>
</svg>
<div class="t yl" style="top:21.5px;margin-left:-1.0px">1</div>
<div class="t yl" style="top:47.8px;margin-left:0.0px">0<u>.</u>500</div>
<div class="t yl" style="top:108.4px;margin-left:0.0px">0<u>.</u>100</div>
<div class="t yl" style="top:135.0px;margin-left:0.0px">0<u>.</u>050</div>
<div class="t yl" style="top:195.5px;margin-left:0.0px">0<u>.</u>010</div>
<div class="t yl" style="top:222.0px;margin-left:0.0px">0<u>.</u>005</div>
<div class="t yl" style="top:283.0px;margin-left:-1.0px">0<u>.</u>001</div>
<div class="t xl" style="letter-spacing:0.65px;left:179.0px;top:292.6px">0<u>.</u>001</div>
<div class="t xl" style="letter-spacing:0.65px;left:277.6px;top:292.6px">0<u>.</u>005</div>
<div class="t xl" style="letter-spacing:0.65px;left:320.0px;top:292.6px">0<u>.</u>010</div>
<div class="t xl" style="letter-spacing:0.65px;left:418.6px;top:292.6px">0<u>.</u>050</div>
<div class="t xl" style="letter-spacing:0.65px;left:461.0px;top:292.6px">0<u>.</u>100</div>
<div class="t xl" style="left:38.0px;top:295.4px">1<u>.</u><b>×</b><span style="letter-spacing:-0.6px">10</span><i></i><sup>4</sup></div>
<div class="t xl" style="left:136.6px;top:295.4px">5<u>.</u><b>×</b><span style="letter-spacing:-0.6px">10</span><i></i><sup>4</sup></div>
<svg width="518" height="335" viewBox="0 0 518 335" style="position:absolute;left:0;top:0;will-change:transform">
<g filter="url(#thr)"><g fill="#FF8000" font-family="Liberation Serif" font-weight="bold"><text x="209.0" y="15.4" font-size="17.3" letter-spacing="0.9" stroke="#FF8000" stroke-width="0.3">10</text><rect x="227.3" y="4.9" width="8.9" height="1.1"/><text x="236.7" y="8.5" font-size="11.2" stroke="#FF8000" stroke-width="0.8">2</text></g><g fill="#0000FF" font-family="Liberation Serif" font-weight="bold"><text x="252.2" y="15.4" font-size="17.3" letter-spacing="0.9" stroke="#0000FF" stroke-width="0.3">10</text><rect x="270.5" y="4.9" width="8.9" height="1.1"/><text x="279.9" y="8.5" font-size="11.2" stroke="#0000FF" stroke-width="0.8">3</text></g><g fill="#009900" font-family="Liberation Serif" font-weight="bold"><text x="295.1" y="15.4" font-size="17.3" letter-spacing="0.9" stroke="#009900" stroke-width="0.3">10</text><rect x="313.4" y="4.9" width="8.9" height="1.1"/><text x="322.8" y="8.5" font-size="11.2" stroke="#009900" stroke-width="0.8">4</text></g></g>
<g filter="url(#thr)" fill="#009900" stroke="#009900" stroke-width="0.1" font-family="Liberation Serif" font-weight="bold"><text x="190.7" y="91.1" font-style="italic" font-size="17.5">k</text><text x="199.6" y="84.7" font-size="11.6">th</text><polygon points="201.80,88.60 202.68,90.89 205.13,91.02 203.23,92.56 203.86,94.93 201.80,93.60 199.74,94.93 200.37,92.56 198.47,91.02 200.92,90.89"/></g>
<g filter="url(#thr)" fill="#0000FF" stroke="#0000FF" stroke-width="0.1" font-family="Liberation Serif" font-weight="bold"><text x="330.7" y="128.0" font-style="italic" font-size="17.5">k</text><text x="339.6" y="121.6" font-size="11.6">th</text><polygon points="341.80,125.50 342.68,127.79 345.13,127.92 343.23,129.46 343.86,131.83 341.80,130.50 339.74,131.83 340.37,129.46 338.47,127.92 340.92,127.79"/></g>
<g filter="url(#thr)" fill="#FF8000" stroke="#FF8000" stroke-width="0.1" font-family="Liberation Serif" font-weight="bold"><text x="465.7" y="135.7" font-style="italic" font-size="17.5">k</text><text x="474.6" y="129.3" font-size="11.6">th</text><polygon points="476.80,133.20 477.68,135.49 480.13,135.62 478.23,137.16 478.86,139.53 476.80,138.20 474.74,139.53 475.37,137.16 473.47,135.62 475.92,135.49"/></g>
</svg>
</body></html>
